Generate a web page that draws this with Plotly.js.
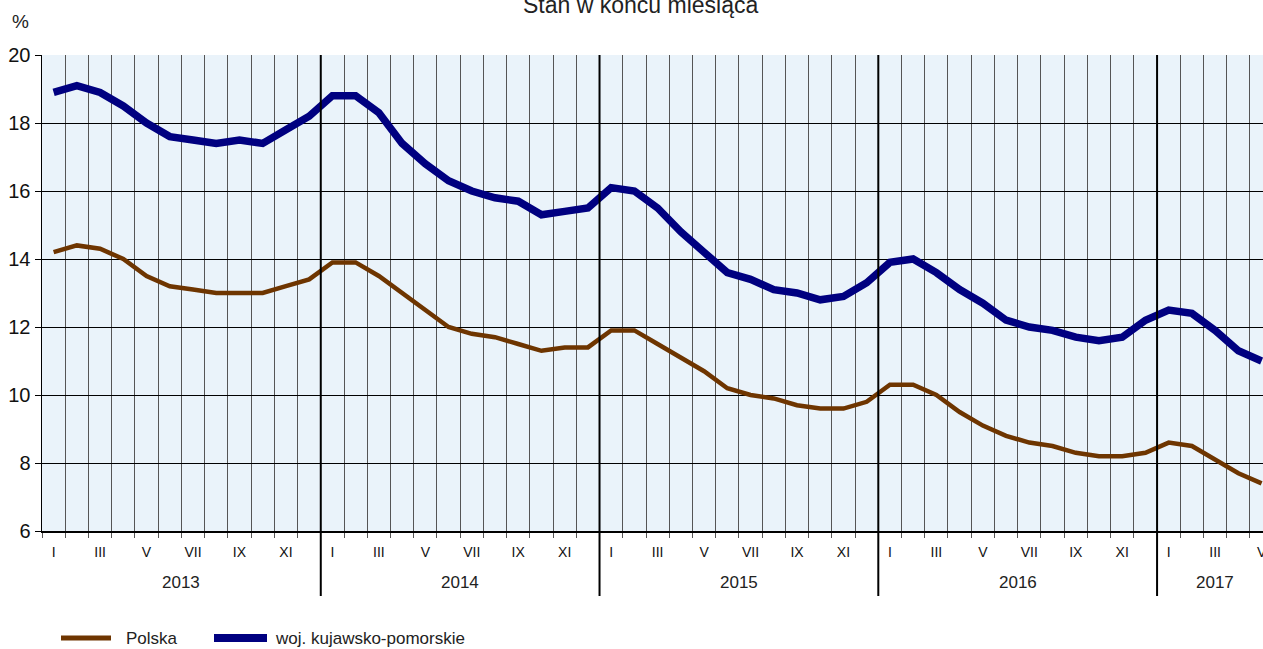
<!DOCTYPE html>
<html>
<head>
<meta charset="utf-8">
<script src="https://cdn.plot.ly/plotly-3.0.1.min.js"></script>
<style>html,body{margin:0;padding:0;background:#fff;}#chart{width:1263px;height:649px;}</style>
</head>
<body>
<div id="chart"></div>
<script>
// Months Jan 2013 .. May 2017
const years = ["2013", "2014", "2015", "2016", "2017"];
const monthLabels = ["I", "", "III", "", "V", "", "VII", "", "IX", "", "XI", ""];
const polska = [
  14.2, 14.4, 14.3, 14.0, 13.5, 13.2, 13.1, 13.0, 13.0, 13.0, 13.2, 13.4,
  13.9, 13.9, 13.5, 13.0, 12.5, 12.0, 11.8, 11.7, 11.5, 11.3, 11.4, 11.4,
  11.9, 11.9, 11.5, 11.1, 10.7, 10.2, 10.0, 9.9, 9.7, 9.6, 9.6, 9.8,
  10.3, 10.3, 10.0, 9.5, 9.1, 8.8, 8.6, 8.5, 8.3, 8.2, 8.2, 8.3,
  8.6, 8.5, 8.1, 7.7, 7.4
];
const kujawskoPomorskie = [
  18.9, 19.1, 18.9, 18.5, 18.0, 17.6, 17.5, 17.4, 17.5, 17.4, 17.8, 18.2,
  18.8, 18.8, 18.3, 17.4, 16.8, 16.3, 16.0, 15.8, 15.7, 15.3, 15.4, 15.5,
  16.1, 16.0, 15.5, 14.8, 14.2, 13.6, 13.4, 13.1, 13.0, 12.8, 12.9, 13.3,
  13.9, 14.0, 13.6, 13.1, 12.7, 12.2, 12.0, 11.9, 11.7, 11.6, 11.7, 12.2,
  12.5, 12.4, 11.9, 11.3, 11.0
];
const seriesNames = ["Polska", "woj. kujawsko-pomorskie"];
const seriesColors = ["#6e3500", "#000080"];
const yTicks = [6, 8, 10, 12, 14, 16, 18, 20];

const n = polska.length;
const idx = [], tickVals = [], tickText = [];
for (let i = 0; i < n; i++) { idx.push(i); tickVals.push(i); tickText.push(monthLabels[i % 12]); }

const font = "Liberation Sans, Arial, sans-serif";

const traces = [
  {x: idx, y: polska, name: seriesNames[0], type: "scatter", mode: "lines",
   line: {color: seriesColors[0], width: 4.5}},
  {x: idx, y: kujawskoPomorskie, name: seriesNames[1], type: "scatter", mode: "lines",
   line: {color: seriesColors[1], width: 7.5}}
];

// plot area in pixels: left 42, top 55, height 476, width 1221
const PH = 476, PW = 1221, PL = 42, PT = 55;
const px2x = px => (px - PL) / PW;
const py2y = py => 1 - (py - PT) / PH;

const shapes = [];
const annotations = [];
for (let k = 0; k < years.length; k++) {
  const start = k * 12 - 0.5;
  if (k > 0) {
    shapes.push({type: "line", xref: "x", yref: "paper", x0: start, x1: start, y0: py2y(596), y1: 1,
      line: {color: "#000", width: 2}, layer: "above"});
  }
  let center = start + 6;
  if (start + 12 > n) center = k * 12 + 2;
  annotations.push({xref: "x", yref: "paper", x: center, y: py2y(582), text: years[k], showarrow: false,
    font: {family: font, size: 17, color: "#222"}, xanchor: "center", yanchor: "middle"});
}
annotations.push({xref: "paper", yref: "paper", x: px2x(640), y: py2y(5), text: "Stan w końcu miesiąca",
  showarrow: false, font: {family: font, size: 23, color: "#222"}, xanchor: "center", yanchor: "middle"});
annotations.push({xref: "paper", yref: "paper", x: px2x(20), y: py2y(21), text: "%",
  showarrow: false, font: {family: font, size: 19, color: "#222"}, xanchor: "center", yanchor: "middle"});

// legend drawn manually
const legendLines = [[61, 111, 5], [214, 267, 8]];
const legendText = [124, 273];
for (let s = 0; s < 2; s++) {
  shapes.push({type: "line", xref: "paper", yref: "paper",
    x0: px2x(legendLines[s][0]), x1: px2x(legendLines[s][1]), y0: py2y(638), y1: py2y(638),
    line: {color: seriesColors[s], width: legendLines[s][2]}});
  annotations.push({xref: "paper", yref: "paper", x: px2x(legendText[s]), y: py2y(638),
    text: seriesNames[s], showarrow: false, xanchor: "left", yanchor: "middle",
    font: {family: font, size: 17, color: "#222"}});
}

const layout = {
  width: 1263, height: 649,
  margin: {l: 42, r: 0, t: 55, b: 118, pad: 0, autoexpand: false},
  paper_bgcolor: "#ffffff",
  plot_bgcolor: "#eaf3fa",
  showlegend: false,
  xaxis: {
    range: [-0.5, 52.06], fixedrange: true,
    tickmode: "array", tickvals: tickVals, ticktext: tickText,
    ticks: "", showgrid: false, zeroline: false,
    tickfont: {family: font, size: 14, color: "#111"}, ticklabelstandoff: 7,
    ticklabeloverflow: "allow",
    showline: true, linecolor: "#000", linewidth: 2,
    minor: {tickmode: "linear", tick0: -0.5, dtick: 1, showgrid: true, gridcolor: "#555",
      gridwidth: 1, ticks: "outside", ticklen: 5, tickcolor: "#555", tickwidth: 1}
  },
  yaxis: {
    range: [6, 20], fixedrange: true,
    tickmode: "array", tickvals: yTicks,
    ticks: "outside", ticklen: 6, tickcolor: "#000", tickwidth: 1,
    showgrid: true, gridcolor: "#000", gridwidth: 1, zeroline: false,
    showline: true, linecolor: "#000", linewidth: 1.5,
    tickfont: {family: font, size: 20, color: "#111"}
  },
  shapes: shapes,
  annotations: annotations
};

Plotly.newPlot("chart", traces, layout, {displayModeBar: false, staticPlot: true});
</script>
</body>
</html>
